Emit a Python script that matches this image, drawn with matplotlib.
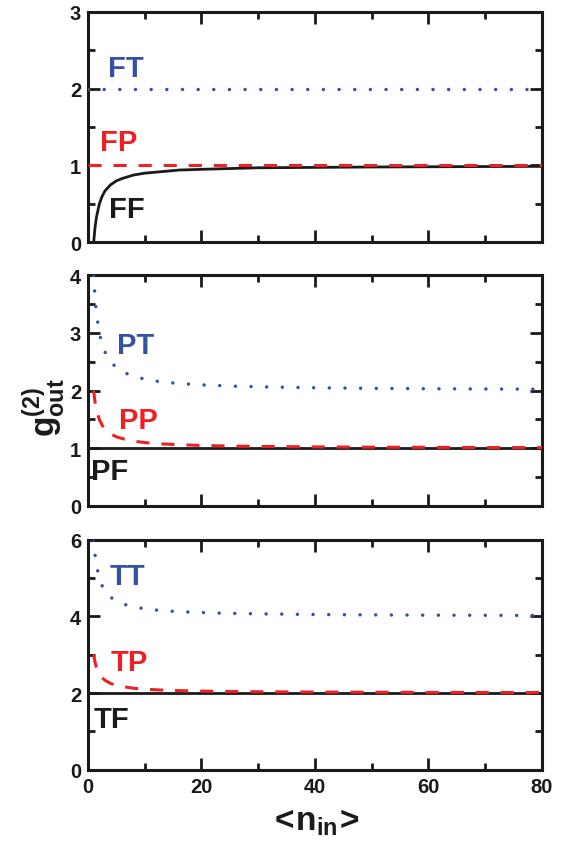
import numpy as np
import matplotlib
matplotlib.use("Agg")
import matplotlib.pyplot as plt
from matplotlib.ticker import MultipleLocator

plt.rcParams['font.family'] = ['Liberation Sans', 'DejaVu Sans']
plt.rcParams['font.weight'] = 'bold'
plt.rcParams['mathtext.fontset'] = 'custom'
plt.rcParams['mathtext.bf'] = 'Liberation Sans:bold'
plt.rcParams['mathtext.rm'] = 'Liberation Sans:bold'

# values
n_in = [1, 1.25, 1.5, 2, 2.5, 3, 4, 5, 6, 8, 10, 13, 16, 20, 25, 30, 40, 50, 60, 70, 80]
flat_x = [0, 80]

ff = [0, 0.2, 0.33, 0.5, 0.6, 0.67, 0.75, 0.8, 0.83, 0.875, 0.9, 0.92, 0.94, 0.95,
      0.96, 0.97, 0.975, 0.98, 0.983, 0.986, 0.988]
fp = [1, 1]
ft = [2, 2]

pf = [1, 1]
pp = [2, 1.8, 1.67, 1.5, 1.4, 1.33, 1.25, 1.2, 1.17, 1.125, 1.1, 1.077, 1.063, 1.05,
      1.04, 1.033, 1.025, 1.02, 1.017, 1.014, 1.0125]
pt = [4, 3.6, 3.33, 3.0, 2.8, 2.67, 2.5, 2.4, 2.33, 2.25, 2.2, 2.15, 2.125, 2.1,
      2.08, 2.067, 2.05, 2.04, 2.033, 2.029, 2.025]

tf = [2, 2]
tp = [3, 2.8, 2.67, 2.5, 2.4, 2.33, 2.25, 2.2, 2.17, 2.125, 2.1, 2.077, 2.063, 2.05,
      2.04, 2.033, 2.025, 2.02, 2.017, 2.014, 2.0125]
tt = [6, 5.6, 5.33, 5.0, 4.8, 4.67, 4.5, 4.4, 4.33, 4.25, 4.2, 4.15, 4.125, 4.1,
      4.08, 4.067, 4.05, 4.04, 4.033, 4.029, 4.025]

blue = '#3452a4'
red = '#ee2024'
black = '#1a1a1a'

fig = plt.figure(figsize=(5.64, 8.45), dpi=100)
ax1 = fig.add_axes([0.156, 0.712, 0.805, 0.273])
ax2 = fig.add_axes([0.156, 0.400, 0.805, 0.273])
ax3 = fig.add_axes([0.156, 0.088, 0.805, 0.272])


def dotted(ax, x, y):
    ax.plot(x, y, color=blue, lw=2.5, dashes=(0.01, 4.5), dash_capstyle='round', zorder=3)


def dashed(ax, x, y):
    ax.plot(x, y, color=red, lw=2.2, dashes=(4.3, 3.9), zorder=4)


def solid(ax, x, y):
    ax.plot(x, y, color=black, lw=2.0, zorder=2)


lab_kw = dict(fontsize=21, fontweight='bold', va='center')

# top panel
solid(ax1, n_in, ff)
dashed(ax1, flat_x, fp)
dotted(ax1, flat_x, ft)
ax1.text(3.5, 2.27, 'FT', color=blue, **lab_kw)
ax1.text(2.1, 1.3, 'FP', color=red, **lab_kw)
ax1.text(3.7, 0.43, 'FF', color=black, **lab_kw)

# middle panel
solid(ax2, flat_x, pf)
dashed(ax2, n_in, pp)
dotted(ax2, n_in, pt)
ax2.text(5.1, 2.79, 'PT', color=blue, **lab_kw)
ax2.text(5.4, 1.49, 'PP', color=red, **lab_kw)
ax2.text(0.6, 0.6, 'PF', color=black, **lab_kw)

# bottom panel
solid(ax3, flat_x, tf)
dashed(ax3, n_in, tp)
dotted(ax3, n_in, tt)
ax3.text(3.9, 5.06, 'TT', color=blue, **lab_kw)
ax3.text(4.05, 2.82, 'TP', color=red, **lab_kw)
ax3.text(1.0, 1.32, 'TF', color=black, **lab_kw)

ylims = [(0, 3), (0, 4), (0, 6)]
ysteps = [(1, 0.5), (1, 0.5), (2, 1)]
for ax, (lo, hi), (maj, mn) in zip([ax1, ax2, ax3], ylims, ysteps):
    ax.set_xlim(0, 80)
    ax.set_ylim(lo, hi)
    ax.xaxis.set_major_locator(MultipleLocator(20))
    ax.xaxis.set_minor_locator(MultipleLocator(10))
    ax.yaxis.set_major_locator(MultipleLocator(maj))
    ax.yaxis.set_minor_locator(MultipleLocator(mn))
    ax.tick_params(which='both', direction='in', top=True, right=True,
                   width=2, color=black, labelsize=14.5, labelcolor=black, pad=5)
    ax.tick_params(which='major', length=8.5)
    ax.tick_params(which='minor', length=5)
    for s in ax.spines.values():
        s.set_linewidth(2.2)
        s.set_color(black)
    for lab in ax.get_yticklabels():
        lab.set_fontweight('bold')
    if ax is not ax3:
        ax.tick_params(labelbottom=False)
    else:
        for lab in ax.get_xticklabels():
            lab.set_fontweight('bold')

fig.text(0.078, 0.518, r'$\mathbf{g}^{\mathbf{(2)}}_{\mathbf{out}}$', rotation=90,
         fontsize=24, ha='center', va='center', color=black)
fig.text(0.557, 0.027, r'$\mathbf{<}\!\mathbf{n}_{\mathbf{in}}\!\mathbf{>}$', fontsize=24,
         ha='center', va='center', color=black)

fig.savefig('out.png', dpi=100)
